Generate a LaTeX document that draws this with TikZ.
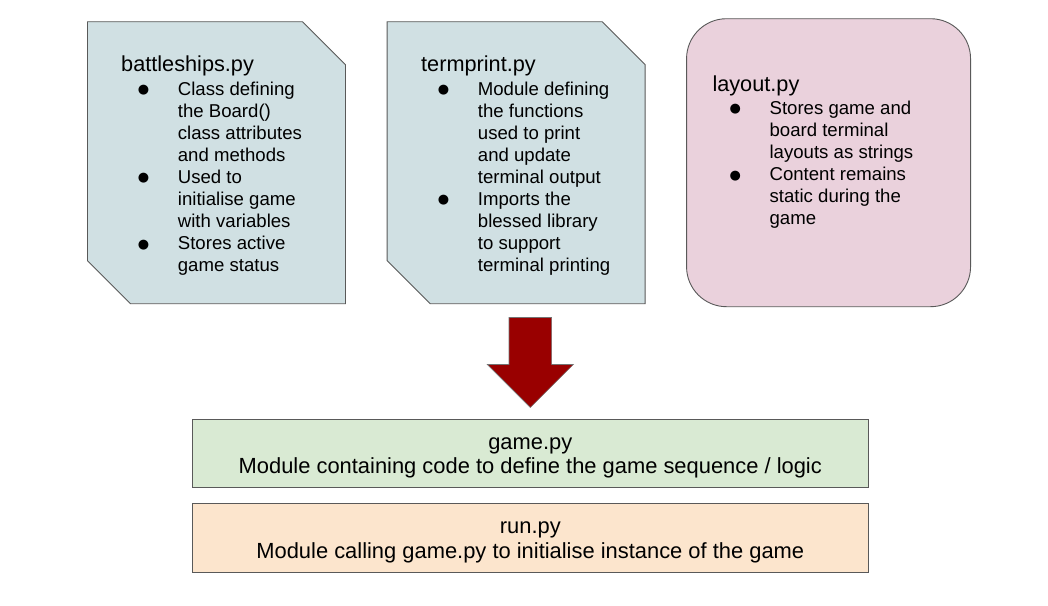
\documentclass[tikz,border=0pt]{standalone}
\usepackage{fontspec}
\setmainfont{Liberation Sans}
\newfontfamily\symfont{DejaVu Sans}
\usepackage{xcolor}
\definecolor{DocBlue}{HTML}{D0E0E3}
\definecolor{DocPink}{HTML}{EAD1DC}
\definecolor{GameGreen}{HTML}{D9EAD3}
\definecolor{RunPeach}{HTML}{FCE5CD}
\definecolor{ArrowRed}{HTML}{990000}
\definecolor{EdgeGrey}{HTML}{595959}
\usetikzlibrary{positioning,shapes.arrows}

% bullet sits at the column start, text follows 34.4pt later
\newcommand{\bdot}{\makebox[34.4pt][l]{\makebox[0pt][c]{\raisebox{1.6pt}{\symfont\fontsize{13}{13}\selectfont ●}}}}
\newcommand{\itemlist}[1]{\begin{tabular}[t]{@{}l@{}l@{}}#1\end{tabular}}
\newcommand{\tstrut}{\rule{0pt}{21pt}}
% outline with the top right and bottom left corners cut off
\newcommand{\snipbox}[1]{\filldraw[snip] (#1.north west) -- ([xshift=-43pt]#1.north east)
  -- ([yshift=-43pt]#1.north east) -- (#1.south east) -- ([xshift=43pt]#1.south west)
  -- ([yshift=43pt]#1.south west) -- cycle;}

\begin{document}
\begin{tikzpicture}[x=1pt,y=-1pt,
    docbox/.style={minimum width=258pt,minimum height=282pt,inner sep=0pt,outer sep=0pt},
    snip/.style={draw=EdgeGrey,line width=0.9pt,fill=DocBlue},
    notebox/.style={draw=EdgeGrey,line width=0.9pt,fill=DocPink,rounded corners=40pt,
      minimum width=284pt,minimum height=288pt,inner sep=0pt},
    wbox/.style={draw=EdgeGrey,line width=0.9pt,minimum width=676pt,minimum height=68.3pt,
      inner sep=0pt,align=center,font=\fontsize{21.9}{24.7}\selectfont},
    downarr/.style={single arrow,draw=black!55,fill=ArrowRed,line width=0.6pt,rotate=-90,
      minimum height=90pt,minimum width=0pt,inner xsep=0pt,inner ysep=21pt,
      single arrow head extend=21.7pt},
    ttl/.style={anchor=base west,inner sep=0pt,font=\fontsize{21.7}{25}\selectfont},
    itm/.style={anchor=base west,inner sep=0pt,font=\fontsize{18.6}{22.1}\selectfont},
  ]
  \fill[white] (0,0) rectangle (1048,605);
  \useasboundingbox (0,0) rectangle (1048,605);

  % module boxes
  \node[docbox] (bships) at (216.5,162.7) {};
  \node[docbox,right=41.6pt of bships] (tprint) {};
  \node[notebox,right=41pt of tprint] (layout) {};
  \snipbox{bships}
  \snipbox{tprint}

  \node[ttl] (bshipst) at (121,71.7) {battleships.py};
  \node[itm] (bshipsl) at (143.3,95) {\itemlist{
    \bdot & Class defining\\ & the Board()\\ & class attributes\\ & and methods\\
    \bdot & Used to\\ & initialise game\\ & with variables\\
    \bdot & Stores active\\ & game status}};

  \node[ttl] (tprintt) at (421,71.7) {termprint.py};
  \node[itm] (tprintl) at (443.3,95) {\itemlist{
    \bdot & Module defining\\ & the functions\\ & used to print\\ & and update\\ & terminal output\\
    \bdot & Imports the\\ & blessed library\\ & to support\\ & terminal printing}};

  \node[ttl] (layoutt) at (712.3,91) {layout.py};
  \node[itm] (layoutl) at (735,114.3) {\itemlist{
    \bdot & Stores game and\\ & board terminal\\ & layouts as strings\\
    \bdot & Content remains\\ & static during the\\ & game}};

  % game and runner
  \node[wbox,fill=GameGreen] (game) at (530.3,453.2) {\tstrut game.py\\Module containing code to define the game sequence / logic};
  \node[wbox,fill=RunPeach,below=15.4pt of game] (run) {\tstrut run.py\\Module calling game.py to initialise instance of the game};

  \node[downarr,anchor=tip] (flow) at ([yshift=10.7pt]game.north) {};
\end{tikzpicture}
\end{document}
